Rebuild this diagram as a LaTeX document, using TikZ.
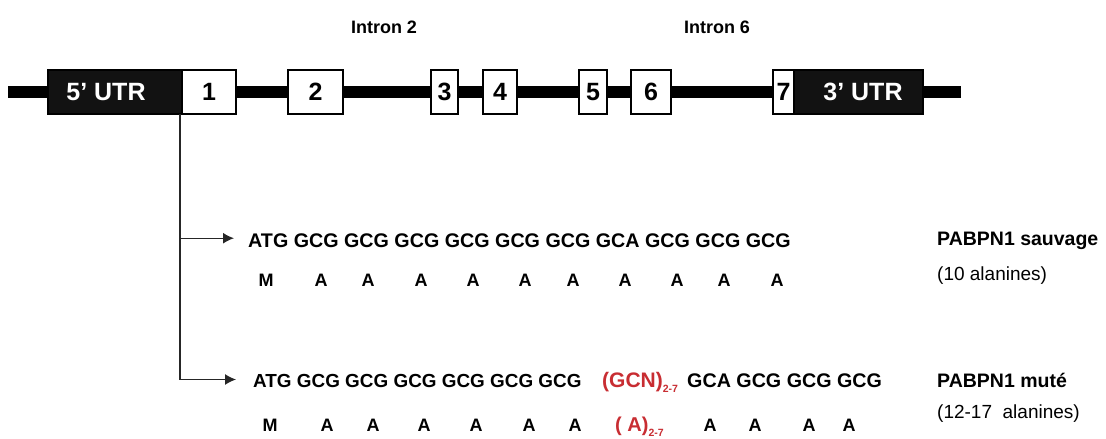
\documentclass[tikz,border=0pt]{standalone}
\usepackage{fontspec}
\setmainfont{Liberation Sans}
\usepackage{tikz}
\usetikzlibrary{arrows.meta}
\definecolor{mutred}{RGB}{200,45,50}

\begin{document}
\begin{tikzpicture}[
    x=1pt, y=-1pt,
    exon/.style={draw=black, fill=white, line width=1.3pt, inner sep=0pt,
      minimum height=44pt, font=\bfseries\fontsize{25}{25}\selectfont},
    utr/.style={exon, fill=black!93},
    utrlabel/.style={inner sep=0pt, text=white, font=\bfseries\fontsize{25}{25}\selectfont},
    intron/.style={anchor=base, inner sep=0pt, font=\bfseries\fontsize{18}{18}\selectfont},
    codon/.style={anchor=base west, inner sep=0pt, font=\bfseries\fontsize{19.7}{20}\selectfont},
    aa/.style={anchor=base, inner sep=0pt, font=\bfseries\fontsize{18}{18}\selectfont},
    tag/.style={anchor=base west, inner sep=0pt, font=\fontsize{19}{19}\selectfont},
    cds/.style={line width=1.4pt, draw=black!85},
    tip/.style={-{Latex[length=11pt,width=11pt]}},
  ]
  \useasboundingbox (0,0) rectangle (1106,439);

  % gene: backbone, then UTRs and exons on top
  \coordinate (gl) at (8,92);
  \coordinate (gr) at (961,92);
  \draw[line width=12pt] (gl) -- (gr);
  \node[utr, minimum width=134] (utr5) at (115,92) {};
  \node[utr, minimum width=129] (utr3) at (858.5,92) {};
  \node[utrlabel] (utr5txt) at (106,92) {5’ UTR};
  \node[utrlabel] (utr3txt) at (863,92) {3’ UTR};
  \foreach \name/\x/\w/\txt in {e1/209/54/1, e2/315.5/55/2, e3/444.5/27/3,
      e4/500/34/4, e5/593/28/5, e6/651/40/6, e7/783.5/21/7}
    \node[exon, minimum width=\w] (\name) at (\x,92) {\txt};

  \node[intron] (int2) at (384,34) {Intron 2};
  \node[intron] (int6) at (717,34) {Intron 6};

  % wild type
  \node[codon] (wt) at (248,247) {ATG GCG GCG GCG GCG GCG GCG GCA GCG GCG GCG};
  \node[aa] (wtM) at (266,286) {M};
  \foreach \x [count=\i] in {321,368,421,473,525,573,625,677,724,777}
    \node[aa] (wtA\i) at (\x,286) {A};

  % mutant
  \node[codon, font=\bfseries\fontsize{18.9}{19}\selectfont] (mut) at (253,387)
    {ATG GCG GCG GCG GCG GCG GCG};
  \node[codon, text=mutred, font=\bfseries\fontsize{21}{21}\selectfont] (rep) at (602,387)
    {(GCN)\raisebox{-5pt}{\fontsize{10.5}{10.5}\selectfont 2-7}};
  \node[codon] (mutend) at (687,387) {GCA GCG GCG GCG};
  \node[aa] (mutM) at (270,431) {M};
  \foreach \x [count=\i] in {327,373,424,476,529,575,710,755,809,849}
    \node[aa] (mutA\i) at (\x,431) {A};
  \node[codon, text=mutred, font=\bfseries\fontsize{20}{20}\selectfont] (repA) at (615,431)
    {( A)\raisebox{-5pt}{\fontsize{10.5}{10.5}\selectfont 2-7}};

  \node[tag, font=\bfseries\fontsize{19.5}{19.5}\selectfont] (wtname) at (937,245) {PABPN1 sauvage};
  \node[tag] (wtcount) at (937,280) {(10 alanines)};
  \node[tag, font=\bfseries\fontsize{19.5}{19.5}\selectfont] (mutname) at (937,387) {PABPN1 muté};
  \node[tag] (mutcount) at (937,418) {(12-17\ \ alanines)};

  % coding start in exon 1
  \coordinate (split) at (180,114);
  \draw[cds, tip] (split) |- ([xshift=-14pt, yshift=2pt]wt.west);
  \draw[cds, tip] (split) |- ([xshift=-17pt, yshift=1pt]mut.west);
\end{tikzpicture}
\end{document}
